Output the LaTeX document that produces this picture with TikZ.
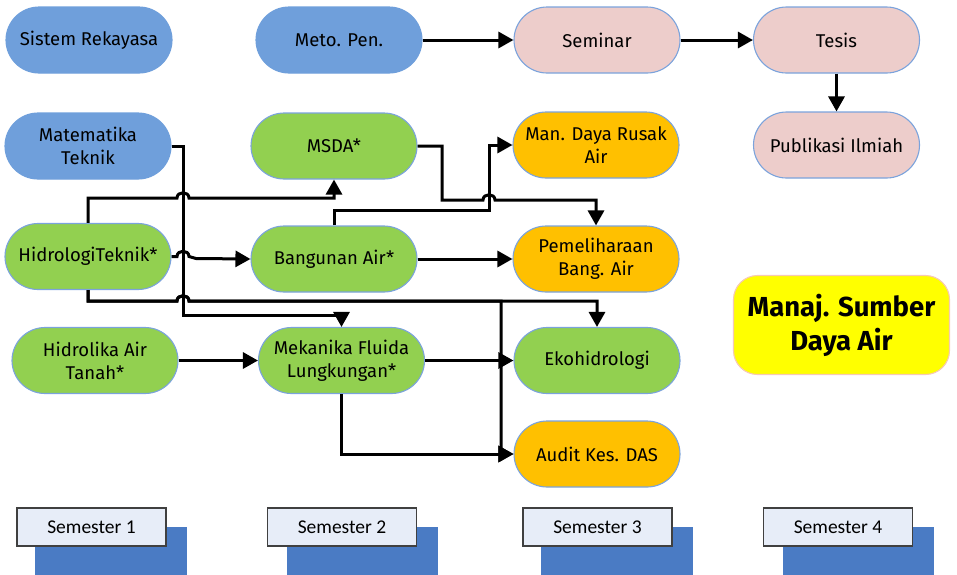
\documentclass[tikz,border=0pt]{standalone}
\usepackage{fontspec}
\setmainfont{Fira Sans}
\newfontfamily\semfont{Carlito}
\usetikzlibrary{arrows.meta}

\definecolor{cblue}{HTML}{6F9FDB}
\definecolor{cgreen}{HTML}{92D050}
\definecolor{corange}{HTML}{FFC000}
\definecolor{cpink}{HTML}{EDCDCB}
\definecolor{cedge}{HTML}{7BA3DC}
\definecolor{cyellow}{HTML}{FFFF00}
\definecolor{cyedge}{HTML}{F6C9B4}
\definecolor{semfill}{HTML}{E7EDF8}
\definecolor{semshade}{HTML}{4A7BC4}

\tikzset{
  course/.style={draw=cedge, line width=1.1pt, rounded corners=33pt,
    minimum width=166pt, minimum height=66pt, inner sep=0pt,
    align=center, font=\fontsize{18.5}{23}\selectfont},
  basic/.style={course, fill=cblue, draw=cblue},
  core/.style={course, fill=cgreen},
  elective/.style={course, fill=corange},
  final/.style={course, fill=cpink},
  semester/.style={draw=black!75, line width=1.1pt, fill=semfill,
    minimum width=149pt, minimum height=38pt, inner sep=0pt,
    font=\semfont\fontsize{19.5}{22}\selectfont},
  link/.style={line width=3pt, -{Triangle[length=15pt,width=16pt]}},
}

\begin{document}
\begin{tikzpicture}[x=1pt,y=-1pt]
\useasboundingbox (0,0) rectangle (957,574);
\clip (0,0) rectangle (957,574);

% semester 1
\node[basic] (sr) at (89,40) {Sistem Rekayasa};
\node[basic] (mt) at (88,146) {Matematika\\Teknik};
\node[core] (ht) at (88,256.5) {HidrologiTeknik*};
\node[core] (hat) at (95,360.5) {Hidrolika Air\\Tanah*};

% semester 2
\node[basic] (mp) at (339,40) {Meto. Pen.};
\node[core] (msda) at (334,146) {MSDA*};
\node[core] (ba) at (334,259) {Bangunan Air*};
\node[core] (mfl) at (341.5,360.5) {Mekanika Fluida\\Lungkungan*};

% semester 3
\node[final] (sem) at (597,40) {Seminar};
\node[elective] (mdr) at (596,145) {Man. Daya Rusak\\Air};
\node[elective] (pba) at (596,259) {Pemeliharaan\\Bang. Air};
\node[core] (eko) at (597,360.5) {Ekohidrologi};
\node[elective] (audit) at (597,454) {Audit Kes. DAS};

% semester 4
\node[final] (tes) at (836.5,40) {Tesis};
\node[final] (pub) at (836.5,145) {Publikasi Ilmiah};

% programme label
\node[draw=cyedge, line width=1.1pt, fill=cyellow, rounded corners=24pt,
  minimum width=216pt, minimum height=99pt, align=center, inner sep=0pt,
  font=\bfseries\fontsize{27.5}{34}\selectfont] (manaj) at (841.5,325)
  {Manaj. Sumber\\Daya Air};

% semester labels with their shadow blocks
\fill[semshade] (35,527) rectangle (187,580);
\fill[semshade] (287,527) rectangle (438,580);
\fill[semshade] (541,527) rectangle (693,580);
\fill[semshade] (783,527) rectangle (934,580);
\node[semester] (s1) at (91.5,527) {Semester 1};
\node[semester] (s2) at (342,527) {Semester 2};
\node[semester] (s3) at (597.5,527) {Semester 3};
\node[semester] (s4) at (838,527) {Semester 4};

% prerequisite links
\draw[link] (mp.east) -- (sem.west);
\draw[link] (sem.east) -- (tes.west);
\draw[link] (tes.south) -- (pub.north);

\draw[link] (mt.east) -- (183,146) -- (183,315) -- (341.5,315) -- (mfl.north);

\draw[link] (ht.north) -- (88,198) -- (177,198)
  .. controls (177,191) and (189,191) .. (189,198) -- (334,198) -- (msda.south);

\draw[link] (ht.east) -- (177,256.5)
  .. controls (177,249.5) and (189,249.5) .. (189,256.5) -- (196,258.5) -- (ba.west);

\draw[link] (ht.south) -- (88,301) -- (177,301)
  .. controls (177,294) and (189,294) .. (189,301) -- (597,301) -- (eko.north);
\draw[link] (ht.south) -- (88,301) -- (177,301)
  .. controls (177,294) and (189,294) .. (189,301) -- (501,301) -- (501,454) -- (audit.west);

\draw[link] (hat.east) -- (mfl.west);
\draw[link] (mfl.east) -- (eko.west);
\draw[link] (mfl.south) -- (341.5,454) -- (audit.west);

\draw[link] (ba.east) -- (pba.west);
\draw[link] (ba.north) -- (334,210) -- (489,210) -- (489,145) -- (mdr.west);

\draw[link] (msda.east) -- (442,146) -- (442,200) -- (483,200)
  .. controls (483,193) and (495,193) .. (495,200) -- (596,200) -- (pba.north);
\end{tikzpicture}
\end{document}
